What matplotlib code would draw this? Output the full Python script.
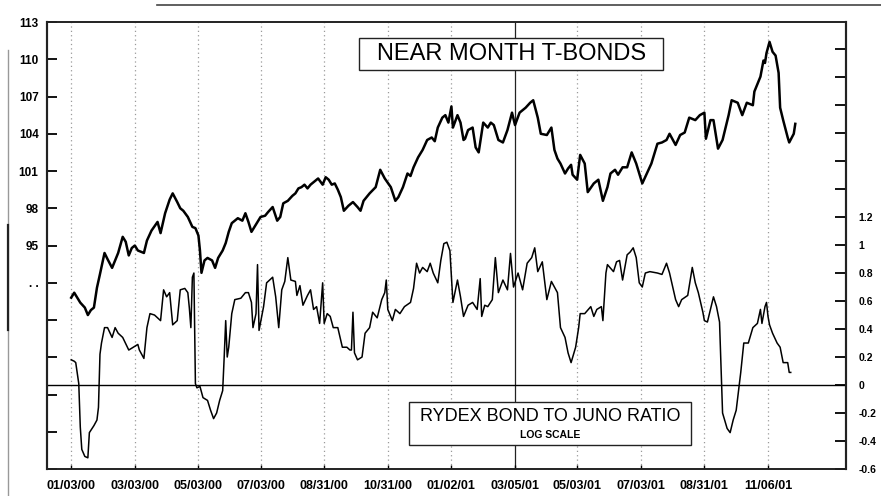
import matplotlib
matplotlib.use('Agg')
import matplotlib.pyplot as plt
from matplotlib.patches import Rectangle
from matplotlib.lines import Line2D

plt.rcParams['font.family'] = ['Liberation Sans', 'DejaVu Sans']

# ---------------- data (x = trading-day index from 01/03/00) ----------------
tick_days = [0, 42, 84, 125, 167, 209, 251, 293, 334, 376, 418, 460]
date_labels = ['01/03/00', '03/03/00', '05/03/00', '07/03/00', '08/31/00', '10/31/00',
               '01/02/01', '03/05/01', '05/03/01', '07/03/01', '08/31/01', '11/06/01']

left_ticks = [77, 80, 83, 86, 89, 92, 95, 98, 101, 104, 107, 110, 113]
left_tick_labels = ['', '', '', '', '', '. .', '95', '98', '101', '104', '107', '110', '113']

right_ticks = [-0.6, -0.4, -0.2, 0, 0.2, 0.4, 0.6, 0.8, 1.0, 1.2, 1.4, 1.6, 1.8, 2.0, 2.2, 2.4]
right_tick_labels = ['-0.6', '-0.4', '-0.2', '0', '0.2', '0.4', '0.6', '0.8', '1', '1.2',
                     '', '', '', '', '', '']

tbond_days = [0, 2, 4, 6, 9, 11, 13, 15, 17, 19, 22, 24, 27, 29, 31, 34, 36, 38, 40, 42,
              44, 48, 50, 53, 57, 59, 62, 65, 67, 70, 72, 74, 77, 80, 82, 84, 85, 86, 88,
              90, 93, 95, 97, 100, 102, 104, 106, 110, 113, 115, 117, 119, 121, 125, 128,
              130, 133, 136, 138, 140, 143, 146, 148, 150, 152, 154, 156, 158, 160, 163,
              166, 168, 170, 172, 174, 176, 178, 180, 183, 186, 189, 191, 193, 197, 201,
              204, 207, 211, 214, 216, 219, 222, 224, 226, 229, 232, 235, 238, 240, 242,
              245, 247, 249, 251, 252, 255, 257, 259, 260, 262, 265, 267, 269, 272, 275,
              277, 279, 282, 285, 288, 291, 293, 296, 300, 303, 305, 308, 310, 314, 317,
              319, 321, 323, 326, 328, 330, 331, 334, 336, 339, 341, 345, 348, 351, 354,
              356, 359, 361, 364, 367, 370, 373, 377, 380, 383, 387, 390, 393, 395, 399,
              402, 405, 408, 412, 415, 418, 419, 422, 424, 427, 430, 434, 436, 440, 443,
              446, 450, 451, 455, 457, 458, 459, 461, 463, 465, 467, 468, 470, 473, 474,
              477, 478]
tbond_values = [90.8, 91.2, 90.8, 90.4, 90.0, 89.4, 89.8, 90.0, 91.6, 92.7, 94.4, 93.9,
                93.2, 93.8, 94.4, 95.7, 95.3, 94.2, 94.8, 95.0, 94.6, 94.4, 95.4, 96.2,
                96.9, 96.0, 97.6, 98.7, 99.2, 98.5, 98.0, 97.8, 97.3, 96.5, 96.4, 95.8,
                94.6, 92.8, 93.8, 94.0, 93.8, 93.2, 94.0, 94.6, 95.2, 96.1, 96.8, 97.2,
                97.0, 97.6, 96.9, 96.1, 96.5, 97.3, 97.4, 97.7, 98.1, 97.0, 97.3, 98.4,
                98.6, 99.0, 99.2, 99.6, 99.7, 99.9, 99.6, 99.9, 100.1, 100.4, 99.9, 100.5,
                100.3, 99.9, 100.0, 99.5, 98.9, 97.8, 98.2, 98.5, 98.1, 97.8, 98.6, 99.2,
                99.7, 101.1, 100.4, 99.7, 98.6, 98.9, 99.7, 100.8, 100.6, 101.3, 102.1,
                102.7, 103.5, 103.7, 103.4, 104.5, 105.3, 105.5, 104.9, 106.2, 104.5,
                105.5, 104.9, 103.5, 103.6, 104.3, 104.5, 102.9, 102.5, 104.9, 104.5,
                104.9, 104.7, 103.5, 103.3, 104.3, 105.7, 104.7, 105.7, 106.1, 106.5,
                106.7, 105.3, 104.0, 103.9, 104.5, 102.7, 102.0, 101.6, 100.8, 101.2,
                101.5, 100.7, 100.3, 102.3, 101.6, 99.3, 100.0, 100.3, 98.6, 99.7, 100.8,
                101.1, 100.7, 101.3, 101.3, 102.5, 101.6, 100.0, 100.8, 101.6, 103.2,
                103.3, 103.5, 104.0, 103.1, 103.9, 104.1, 105.3, 105.1, 105.5, 105.7,
                103.6, 105.1, 105.1, 102.8, 103.5, 105.5, 106.7, 106.5, 105.5, 106.5,
                106.3, 107.4, 108.6, 109.9, 109.7, 110.5, 111.4, 110.6, 110.3, 108.9,
                106.1, 105.1, 103.7, 103.3, 104.0, 104.8]

ratio_days = [0, 2, 3, 5, 6, 7, 9, 11, 12, 15, 17, 18, 19, 20, 22, 24, 27, 29, 31, 34,
              38, 41, 44, 45, 48, 50, 52, 55, 59, 61, 63, 65, 67, 70, 72, 75, 77, 78, 79,
              80, 81, 82, 83, 85, 87, 90, 92, 94, 96, 98, 100, 101, 102, 103, 104, 106,
              108, 112, 115, 117, 119, 120, 122, 123, 124, 127, 129, 133, 135, 137, 139,
              141, 143, 145, 148, 149, 151, 153, 156, 158, 160, 162, 164, 166, 167, 169,
              171, 173, 176, 179, 182, 184, 185, 186, 187, 189, 192, 194, 197, 199, 202,
              205, 207, 208, 209, 212, 214, 217, 220, 224, 226, 228, 230, 232, 235, 237,
              239, 242, 244, 246, 248, 250, 251, 252, 255, 257, 259, 262, 265, 268, 270,
              271, 273, 275, 278, 280, 282, 285, 288, 290, 292, 295, 298, 301, 304, 306,
              308, 311, 314, 317, 321, 323, 326, 328, 330, 333, 335, 336, 339, 343, 345,
              347, 350, 351, 353, 354, 358, 360, 362, 364, 367, 369, 371, 373, 375, 377,
              379, 382, 387, 390, 393, 395, 399, 401, 403, 407, 410, 412, 414, 417, 418,
              420, 424, 426, 428, 430, 433, 435, 437, 439, 442, 444, 447, 450, 453, 455,
              456, 458, 459, 460, 461, 463, 466, 468, 470, 473, 474, 475]
ratio_values = [0.18, 0.17, 0.16, 0.01, -0.30, -0.46, -0.51, -0.52, -0.34, -0.29, -0.25,
                -0.16, 0.22, 0.30, 0.41, 0.41, 0.34, 0.41, 0.37, 0.34, 0.25, 0.27, 0.29,
                0.25, 0.19, 0.41, 0.51, 0.50, 0.46, 0.68, 0.63, 0.66, 0.43, 0.46, 0.68,
                0.69, 0.66, 0.55, 0.41, 0.77, 0.80, 0.01, -0.02, -0.01, -0.09, -0.11,
                -0.18, -0.24, -0.20, -0.11, -0.04, 0.20, 0.46, 0.20, 0.27, 0.51, 0.61,
                0.62, 0.66, 0.66, 0.59, 0.41, 0.51, 0.86, 0.39, 0.56, 0.73, 0.77, 0.63,
                0.41, 0.68, 0.74, 0.91, 0.75, 0.74, 0.64, 0.71, 0.57, 0.64, 0.68, 0.54,
                0.56, 0.44, 0.73, 0.44, 0.51, 0.49, 0.41, 0.41, 0.27, 0.27, 0.25, 0.25,
                0.52, 0.23, 0.18, 0.20, 0.37, 0.41, 0.52, 0.48, 0.61, 0.66, 0.75, 0.54,
                0.46, 0.54, 0.51, 0.56, 0.59, 0.69, 0.87, 0.80, 0.84, 0.81, 0.87, 0.80,
                0.73, 0.89, 1.01, 1.02, 0.96, 0.77, 0.59, 0.75, 0.63, 0.49, 0.57, 0.59,
                0.54, 0.76, 0.49, 0.57, 0.56, 0.61, 0.91, 0.66, 0.75, 0.68, 0.94, 0.70,
                0.80, 0.68, 0.87, 0.91, 0.98, 0.81, 0.88, 0.61, 0.74, 0.66, 0.41, 0.34,
                0.23, 0.16, 0.27, 0.41, 0.51, 0.51, 0.56, 0.49, 0.54, 0.56, 0.46, 0.80,
                0.86, 0.81, 0.88, 0.89, 0.75, 0.93, 0.95, 0.98, 0.91, 0.73, 0.70, 0.80,
                0.81, 0.80, 0.79, 0.87, 0.80, 0.61, 0.56, 0.61, 0.64, 0.84, 0.73, 0.66,
                0.52, 0.46, 0.45, 0.63, 0.56, 0.45, -0.20, -0.31, -0.34, -0.25, -0.18,
                0.09, 0.30, 0.30, 0.41, 0.44, 0.54, 0.44, 0.56, 0.59, 0.49, 0.43, 0.37,
                0.30, 0.27, 0.16, 0.16, 0.09, 0.09]

title_text = 'NEAR MONTH T-BONDS'
ratio_text = 'RYDEX BOND TO JUNO RATIO'
ratio_subtext = 'LOG SCALE'

# ---------------- figure ----------------
fig = plt.figure(figsize=(8.81, 4.96), dpi=100)
ax = fig.add_axes([0.0533, 0.0544, 0.9070, 0.9012])

# vertical date grid
for i, d in enumerate(tick_days):
    if date_labels[i] == '03/05/01':
        ax.axvline(d, color='#222222', lw=0.9, zorder=1)
    else:
        ax.axvline(d, color='#9a9a9a', lw=0.9, ls=(0, (1, 2.5)), zorder=1)

ax.plot(tbond_days, tbond_values, color='black', lw=1.8, solid_joinstyle='round', zorder=3)
ax.set_xlim(-16, 511.5)
ax.set_ylim(77, 113)
ax.set_yticks(left_ticks)
ax.set_yticklabels(left_tick_labels, fontsize=8.5, fontweight='bold')
ax.set_xticks(tick_days)
ax.set_xticklabels(date_labels, fontsize=9, fontweight='bold')
ax.tick_params(axis='y', direction='in', length=7, width=1.3, pad=6)
ax.tick_params(axis='x', direction='in', length=3, width=1.0, pad=8)

ax2 = ax.twinx()
ax2.axhline(0, color='black', lw=1.0, zorder=2)
ax2.plot(ratio_days, ratio_values, color='black', lw=1.1, zorder=3)
ax2.set_ylim(-0.6, 2.593)
ax2.set_yticks(right_ticks)
ax2.set_yticklabels(right_tick_labels, fontsize=7.5, fontweight='bold')
ax2.tick_params(axis='y', direction='in', length=8, width=1.3, pad=9)

for a in (ax, ax2):
    for side, sp in a.spines.items():
        sp.set_color('#222222')
        sp.set_linewidth(1.5 if side in ('left', 'right') else 1.2)

# title boxes
ax.add_patch(Rectangle((0.3905, 0.8926), 0.3805, 0.0716, transform=ax.transAxes,
                       fill=True, facecolor='white', edgecolor='#222222', lw=1.0, zorder=5))
ax.text(0.581, 0.928, title_text, transform=ax.transAxes, ha='center', va='center',
        fontsize=17, zorder=6)

ax2.add_patch(Rectangle((0.453, 0.0537), 0.353, 0.0962, transform=ax2.transAxes,
                        fill=True, facecolor='white', edgecolor='#222222', lw=1.0, zorder=5))
ax2.text(0.6295, 0.1186, ratio_text, transform=ax2.transAxes, ha='center', va='center',
         fontsize=13, zorder=6)
ax2.text(0.6295, 0.076, ratio_subtext, transform=ax2.transAxes, ha='center', va='center',
         fontsize=7.5, fontweight='bold', zorder=6)

# scanned page frame
fig.add_artist(Line2D([157 / 881, 1.0], [1 - 5 / 496, 1 - 5 / 496], transform=fig.transFigure,
                      color='#444444', lw=1.2))
fig.add_artist(Line2D([8 / 881, 8 / 881], [0.0, 1 - 50 / 496], transform=fig.transFigure,
                      color='#999999', lw=1.0))
fig.add_artist(Line2D([8 / 881, 8 / 881], [1 - 330 / 496, 1 - 225 / 496],
                      transform=fig.transFigure, color='#222222', lw=1.6))

fig.savefig('out.png', dpi=100)
